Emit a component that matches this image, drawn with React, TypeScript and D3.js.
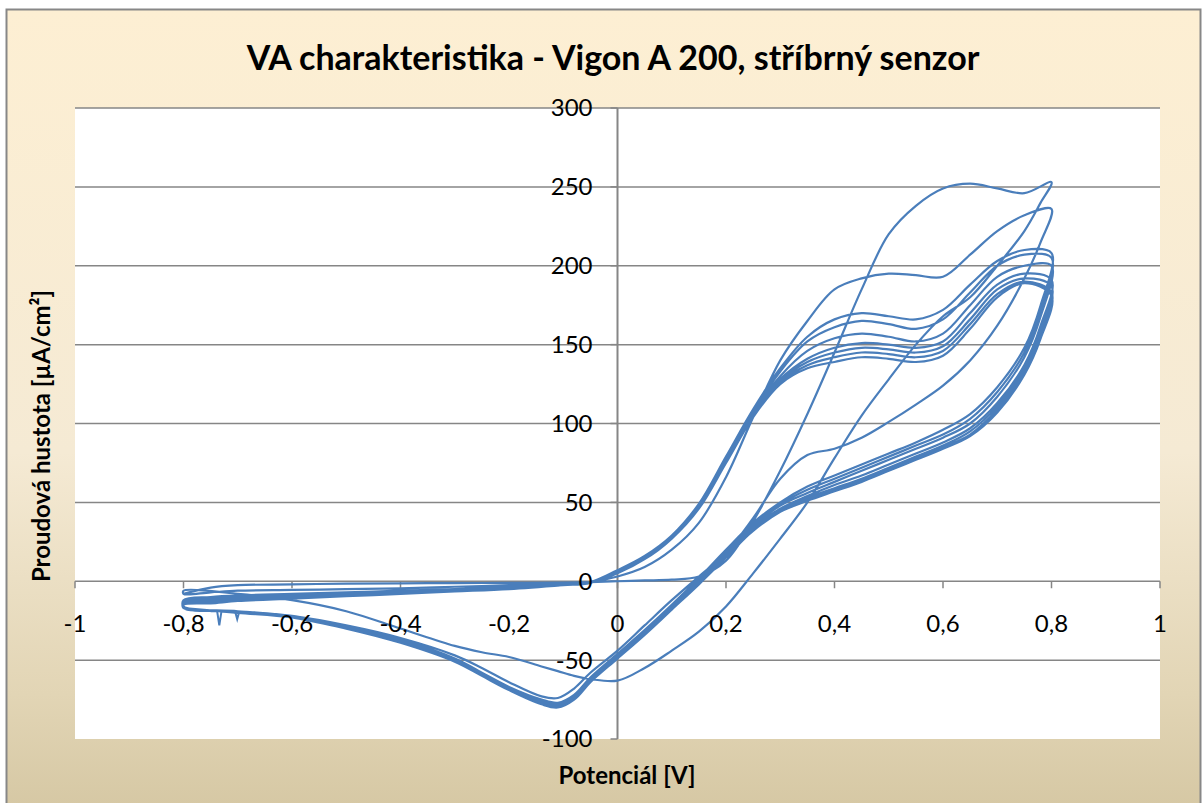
import * as d3 from 'd3';

// potential grid of the anodic (forward) and cathodic (reverse) sweeps [V]
const fwdV = [-0.8, -0.75, -0.7, -0.6, -0.5, -0.4, -0.3, -0.2, -0.1, -0.05, 0, 0.05, 0.1, 0.15, 0.2, 0.25, 0.3, 0.35, 0.4, 0.45, 0.5, 0.55, 0.6, 0.65, 0.7, 0.75, 0.8];
const revV = [0.8, 0.78, 0.75, 0.7, 0.65, 0.6, 0.55, 0.5, 0.45, 0.4, 0.35, 0.3, 0.25, 0.2, 0.15, 0.1, 0.05, 0, -0.05, -0.08, -0.11, -0.14, -0.2, -0.25, -0.3, -0.4, -0.5, -0.6, -0.7, -0.8];

// current density [uA/cm2], one forward + one reverse sweep per cycle
const forwardScans = [
  [-8, -4, -2.5, -2, -1.5, -1.3, -1.2, -1, -0.8, -0.5, 0, 0.5, 1, 3, 13, 38, 70, 106, 145, 185, 220, 238, 249, 252, 249, 246, 253],
  [-8, -7, -6, -5.5, -5, -4.5, -3.5, -2.5, -1.5, -0.5, 3, 9, 20, 37, 66, 104, 140, 165, 185, 192, 195, 194, 193, 207, 222, 232, 236],
  [-12, -10, -9, -8, -7, -6, -5, -3.5, -2, -0.5, 7, 16, 29, 49, 79, 109, 135, 155, 166, 170, 168, 166, 172, 188, 203, 210, 208],
  [-13, -11, -10, -9, -8, -6.5, -5.5, -4, -2, -0.5, 7, 16, 29, 49, 78, 108, 133, 152, 161, 165, 163, 160, 166, 183, 200, 207, 205],
  [-13, -12, -11, -9.5, -8.5, -7, -5.5, -4, -2, -0.5, 7, 15, 28, 48, 77, 107, 130, 146, 154, 157, 155, 152, 157, 175, 193, 200, 200],
  [-14, -12, -11, -10, -8.5, -7, -6, -4, -2, -1, 6, 15, 28, 48, 77, 106, 128, 141, 148, 151, 150, 148, 152, 170, 188, 195, 191],
  [-14, -13, -12, -10, -9, -7.5, -6, -4.5, -2.5, -1, 6, 14, 27, 47, 76, 105, 127, 139, 145, 148, 147, 145, 149, 166, 185, 192, 187],
  [-15, -13, -12, -10.5, -9, -7.5, -6, -4.5, -2.5, -1, 6, 14, 27, 47, 76, 105, 126, 137, 142, 145, 144, 142, 146, 163, 182, 190, 183],
  [-15, -14, -12.5, -11, -9.5, -8, -6.5, -5, -2.5, -1, 5, 14, 27, 46, 75, 104, 125, 135, 139, 142, 141, 139, 143, 160, 180, 189, 181],
];

const reverseScans = [
  [253, 240, 222, 200, 180, 168, 150, 128, 105, 78, 50, 27, 5, -16, -32, -44, -55, -63, -62, -60, -57, -54, -48, -45, -41, -30, -19, -12, -8, -6],
  [236, 215, 192, 162, 140, 124, 112, 101, 91, 84, 80, 65, 40, 18, 3, -12, -28, -44, -58, -68, -74, -73, -64, -55, -47, -36, -28, -22, -19, -16],
  [208, 175, 148, 123, 106, 96, 88, 81, 74, 67, 60, 50, 37, 20, 2, -15, -31, -46, -61, -72, -77, -75, -67, -58, -49, -37, -29, -22, -19, -17],
  [205, 172, 145, 120, 103, 93, 86, 79, 72, 65, 58, 49, 36, 19, 1, -16, -32, -47, -62, -73, -78, -76, -67, -58, -49, -37, -29, -22, -19, -17],
  [200, 168, 142, 117, 100, 91, 84, 77, 70, 63, 56, 48, 35, 18, 0, -16, -32, -47, -62, -73, -78, -76, -68, -58, -49, -37, -29, -22, -19, -17],
  [191, 162, 137, 113, 97, 88, 81, 74, 67, 61, 54, 46, 34, 17, 0, -17, -33, -48, -63, -74, -79, -77, -68, -59, -50, -38, -29, -22, -19, -17],
  [187, 159, 135, 111, 95, 86, 79, 72, 65, 59, 53, 45, 33, 16, -1, -17, -33, -48, -63, -74, -79, -77, -68, -59, -50, -38, -30, -23, -19, -17],
  [183, 156, 133, 109, 93, 85, 78, 71, 64, 58, 52, 44, 32, 16, -1, -17, -33, -48, -64, -75, -79, -77, -69, -59, -50, -38, -30, -23, -19, -17],
  [181, 154, 131, 107, 92, 84, 77, 70, 63, 57, 51, 44, 32, 15, -2, -18, -34, -49, -64, -75, -80, -78, -69, -60, -51, -39, -30, -23, -20, -17],
];

// small noise spikes on one cathodic sweep
const noiseV = [-0.75, -0.738, -0.734, -0.73, -0.705, -0.701, -0.697];
const noiseI = [-19, -19, -28, -19, -19, -24, -19];

const xTicks = [-1, -0.8, -0.6, -0.4, -0.2, 0, 0.2, 0.4, 0.6, 0.8, 1];
const yTicks = [-100, -50, 0, 50, 100, 150, 200, 250, 300];

const W = 1204;
const H = 803;
const plot = { left: 75, right: 1160, top: 108, bottom: 739 };
const font = 'Lato, "Open Sans", sans-serif';
const fmt = (v: number) => String(v).replace('.', ',');

export default function App() {
  const x = d3.scaleLinear().domain([-1, 1]).range([plot.left, plot.right]);
  const y = d3.scaleLinear().domain([-100, 300]).range([plot.bottom, plot.top]);

  const pts: [number, number][] = [];
  forwardScans.forEach((f, i) => {
    fwdV.forEach((v, j) => pts.push([v, f[j]]));
    reverseScans[i].forEach((c, j) => {
      if (j > 0) pts.push([revV[j], c]);
    });
  });

  const line = d3.line<[number, number]>()
    .x(d => x(d[0]))
    .y(d => y(d[1]))
    .curve(d3.curveCatmullRom.alpha(0.5));

  const noiseLine = d3.line<number>()
    .x(d => x(d))
    .y((d, i) => y(noiseI[i]));

  const x0 = x(0);
  const y0 = y(0);

  return (
    <svg width={W} height={H} style={{ position: 'absolute', left: 0, top: 0, display: 'block' }}>
      <defs>
        <linearGradient id="bg" x1="0" y1="0" x2="0" y2="1">
          <stop offset="0" stopColor="#FDEFD3" />
          <stop offset="0.55" stopColor="#F5EAD4" />
          <stop offset="0.85" stopColor="#E2D5B5" />
          <stop offset="1" stopColor="#D5C7A3" />
        </linearGradient>
        <clipPath id="plotClip">
          <rect x={plot.left} y={plot.top - 2} width={plot.right - plot.left} height={plot.bottom - plot.top + 2} />
        </clipPath>
      </defs>

      <rect x={6.5} y={9.5} width={1194} height={805} fill="url(#bg)" stroke="#878787" strokeWidth={2} />
      <rect x={plot.left} y={plot.top} width={plot.right - plot.left} height={plot.bottom - plot.top} fill="#fff" />

      {/* horizontal gridlines */}
      {yTicks.filter(t => t !== -100 && t !== 0).map(t => (
        <line key={t} x1={plot.left} x2={plot.right} y1={y(t)} y2={y(t)} stroke="#868686" strokeWidth={1.5} />
      ))}

      {/* axes through the origin */}
      <line x1={plot.left} x2={plot.right} y1={y0} y2={y0} stroke="#868686" strokeWidth={1.5} />
      <line x1={x0} x2={x0} y1={plot.top} y2={plot.bottom} stroke="#868686" strokeWidth={2} />
      {xTicks.map(t => (
        <line key={t} x1={x(t)} x2={x(t)} y1={y0} y2={y0 + 7} stroke="#868686" strokeWidth={1.5} />
      ))}
      {yTicks.map(t => (
        <line key={t} x1={x0 - 7} x2={x0} y1={y(t)} y2={y(t)} stroke="#868686" strokeWidth={1.5} />
      ))}

      <g clipPath="url(#plotClip)">
        <path d={line(pts) ?? ''} fill="none" stroke="#4A7EBB" strokeWidth={2.2} strokeLinejoin="round" />
        <path d={noiseLine(noiseV) ?? ''} fill="none" stroke="#4A7EBB" strokeWidth={2} />
      </g>

      {/* tick labels */}
      {xTicks.map(t => (
        <text key={t} x={x(t)} y={y0 + 51} textAnchor="middle" fontFamily={font} fontSize={24} fill="#000">
          {fmt(t)}
        </text>
      ))}
      {yTicks.map(t => (
        <text key={t} x={x0 - 25} y={y(t)} dy="0.35em" textAnchor="end" fontFamily={font} fontSize={24} fill="#000">
          {t}
        </text>
      ))}

      <text x={613} y={70} textAnchor="middle" fontFamily={font} fontWeight="bold" fontSize={34} fill="#000">
        VA charakteristika - Vigon A 200, stříbrný senzor
      </text>
      <text x={627} y={784} textAnchor="middle" fontFamily={font} fontWeight="bold" fontSize={24} fill="#000">
        Potenciál [V]
      </text>
      <text transform={`translate(50,436) rotate(-90)`} textAnchor="middle" fontFamily={font} fontWeight="bold" fontSize={24} fill="#000">
        Proudová hustota [µA/cm²]
      </text>
    </svg>
  );
}
